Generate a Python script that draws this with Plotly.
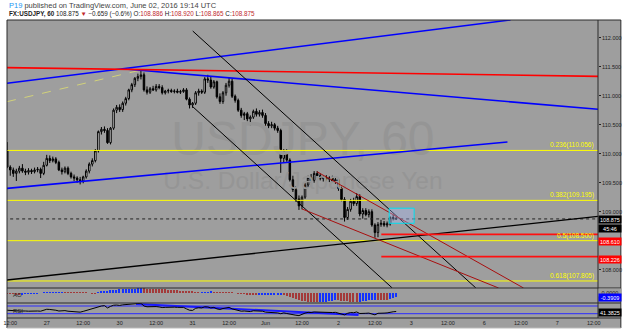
import plotly.graph_objects as go

# ---------------- data ----------------
# hourly bar index: 0 = 27 May 00:00 UTC (weekend gap removed, 24 bars per day)
bar_index = list(range(-13, 116))

opens = [110.06, 109.77, 109.72, 109.66, 109.70, 109.75, 109.70, 109.68, 109.71, 109.69, 109.72, 109.73, 109.66,
         109.80, 109.92, 109.88, 109.91, 109.85, 109.72, 109.69, 109.75, 109.66, 109.60, 109.58, 109.55,
         109.53, 109.60, 109.70, 109.82, 109.88, 110.05, 110.38, 110.42, 110.40, 110.19, 110.44, 110.75,
         110.80, 110.76, 110.87, 110.95, 111.10, 111.19, 111.30, 111.33, 111.36, 111.10, 111.06, 111.12,
         111.10, 111.16, 111.14, 111.05, 111.08, 111.09, 111.07, 111.08, 111.06, 111.07, 111.10, 110.94,
         110.84, 110.87, 111.05, 111.08, 111.06, 111.29, 111.27, 111.15, 111.24, 110.98, 110.90, 111.05,
         111.18, 111.25, 110.99, 110.92, 110.75, 110.66, 110.69, 110.60, 110.63, 110.73, 110.68, 110.71,
         110.66, 110.52, 110.48, 110.50, 110.44, 110.40, 109.92, 110.05, 109.89, 109.55, 109.38, 109.22,
         109.10, 109.25, 109.46, 109.59, 109.54, 109.66, 109.62, 109.57, 109.59, 109.56, 109.58, 109.53,
         109.55, 109.40, 109.21, 108.90, 109.04, 109.18, 109.14, 109.26, 108.96, 109.02, 108.95, 109.00,
         108.77, 108.64, 108.78, 108.80, 108.77, 108.79, 108.90, 108.886]
highs = [110.20, 109.80, 109.76, 109.74, 109.79, 109.82, 109.74, 109.75, 109.74, 109.76, 109.77, 109.76, 109.86,
         109.98, 109.97, 109.95, 109.94, 109.88, 109.76, 109.78, 109.78, 109.69, 109.64, 109.61, 109.60,
         109.62, 109.73, 109.85, 109.92, 110.08, 110.40, 110.46, 110.47, 110.44, 110.46, 110.78, 110.84,
         110.85, 110.90, 110.98, 111.12, 111.22, 111.32, 111.38, 111.45, 111.40, 111.16, 111.15, 111.17,
         111.20, 111.20, 111.18, 111.10, 111.12, 111.12, 111.11, 111.12, 111.10, 111.13, 111.13, 110.97,
         110.89, 111.08, 111.12, 111.11, 111.32, 111.36, 111.33, 111.27, 111.26, 111.04, 111.08, 111.22,
         111.31, 111.29, 111.02, 110.95, 110.79, 110.72, 110.72, 110.66, 110.76, 110.78, 110.75, 110.76,
         110.70, 110.56, 110.55, 110.53, 110.48, 110.43, 110.08, 110.08, 109.92, 109.62, 109.44, 109.28,
         109.28, 109.50, 109.62, 109.65, 109.70, 109.70, 109.66, 109.62, 109.63, 109.61, 109.62, 109.58,
         109.58, 109.43, 109.25, 109.08, 109.22, 109.24, 109.32, 109.30, 109.06, 109.06, 109.04, 109.04,
         108.80, 108.82, 108.86, 108.84, 108.83, 108.92, 108.95, 108.920]
lows = [109.75, 109.62, 109.60, 109.53, 109.66, 109.67, 109.63, 109.64, 109.65, 109.66, 109.68, 109.58, 109.63,
        109.78, 109.84, 109.85, 109.82, 109.70, 109.64, 109.66, 109.63, 109.57, 109.53, 109.50, 109.47,
        109.49, 109.57, 109.66, 109.78, 109.85, 110.02, 110.33, 110.36, 110.17, 110.16, 110.41, 110.70,
        110.72, 110.72, 110.83, 110.92, 111.06, 111.15, 111.25, 111.28, 111.07, 111.02, 111.03, 111.08,
        111.07, 111.11, 111.02, 111.02, 111.04, 111.05, 111.04, 111.04, 111.03, 111.05, 110.92, 110.78,
        110.79, 110.84, 111.00, 111.03, 111.03, 111.22, 111.12, 111.12, 110.95, 110.86, 110.86, 111.00,
        111.14, 110.96, 110.88, 110.72, 110.62, 110.58, 110.56, 110.49, 110.60, 110.64, 110.64, 110.62,
        110.48, 110.44, 110.44, 110.40, 110.36, 109.67, 109.85, 109.86, 109.52, 109.34, 109.17, 109.03,
        109.04, 109.22, 109.42, 109.50, 109.50, 109.58, 109.54, 109.52, 109.53, 109.51, 109.50, 109.48,
        109.36, 109.18, 108.83, 108.86, 109.00, 109.10, 109.10, 108.92, 108.88, 108.92, 108.90, 108.74,
        108.55, 108.56, 108.74, 108.74, 108.73, 108.76, 108.85, 108.865]
closes = [109.77, 109.72, 109.66, 109.70, 109.75, 109.70, 109.68, 109.71, 109.69, 109.72, 109.73, 109.66, 109.80,
          109.92, 109.88, 109.91, 109.85, 109.72, 109.69, 109.75, 109.66, 109.60, 109.58, 109.55, 109.53,
          109.60, 109.70, 109.82, 109.88, 110.05, 110.38, 110.42, 110.40, 110.19, 110.44, 110.75, 110.80,
          110.76, 110.87, 110.95, 111.10, 111.19, 111.30, 111.33, 111.36, 111.10, 111.06, 111.12, 111.10,
          111.16, 111.14, 111.05, 111.08, 111.09, 111.07, 111.08, 111.06, 111.07, 111.10, 110.94, 110.84,
          110.87, 111.05, 111.08, 111.06, 111.29, 111.27, 111.15, 111.24, 110.98, 110.90, 111.05, 111.18,
          111.25, 110.99, 110.92, 110.75, 110.66, 110.69, 110.60, 110.63, 110.73, 110.68, 110.71, 110.66,
          110.52, 110.48, 110.50, 110.44, 110.40, 109.92, 110.05, 109.89, 109.55, 109.38, 109.22, 109.10,
          109.25, 109.46, 109.59, 109.54, 109.66, 109.62, 109.57, 109.59, 109.56, 109.58, 109.53, 109.55,
          109.40, 109.21, 108.90, 109.04, 109.18, 109.14, 109.26, 108.96, 109.02, 108.95, 109.00, 108.77,
          108.64, 108.78, 108.80, 108.77, 108.79, 108.90, 108.886, 108.875]

ao_values = [-0.06, -0.08, -0.10, -0.12, -0.14,
             -0.12, -0.10, -0.08, -0.06, -0.04, -0.02,
             0.0, 0.01, 0.02, 0.025, 0.03, 0.035, 0.04, 0.045,
             0.04, 0.035, 0.03, 0.025, 0.02, 0.015, 0.01, 0.005, 0.0, -0.005, -0.01,
             0.05, 0.12, 0.18, 0.24, 0.28, 0.32, 0.35, 0.38, 0.40, 0.42, 0.43, 0.44, 0.45, 0.46, 0.47,
             0.46, 0.45, 0.44, 0.43, 0.42, 0.40, 0.38, 0.36, 0.34, 0.32, 0.29, 0.26, 0.23, 0.20, 0.17,
             0.14, 0.11, 0.09, 0.07,
             0.08, 0.09, 0.10, 0.11,
             0.10, 0.08, 0.06, 0.05, 0.04, 0.03, 0.02, 0.0, -0.03, -0.06, -0.10, -0.13, -0.16, -0.18, -0.20,
             -0.19, -0.185, -0.18, -0.175, -0.17, -0.165, -0.16, -0.155,
             -0.20, -0.28, -0.38, -0.48, -0.58, -0.68, -0.76, -0.82, -0.87, -0.90, -0.92, -0.93,
             -0.92, -0.89, -0.85, -0.80, -0.75, -0.70,
             -0.72, -0.75, -0.80, -0.84, -0.87, -0.89, -0.90,
             -0.88, -0.84, -0.79, -0.74, -0.70, -0.66,
             -0.68, -0.70, -0.71, -0.72,
             -0.60, -0.50, -0.3909]

rsi_values = [48, 46, 44, 45,
              44, 45, 44, 43, 44, 45, 44, 43,
              48, 53, 52, 51,
              48, 44, 45, 46, 43, 41, 40, 39,
              38, 42, 47,
              52, 57, 63, 68, 70,
              72, 60, 68,
              74, 75, 73, 76, 78, 80, 81, 82, 83,
              84,
              70, 66, 67,
              66, 67, 65, 62, 63, 64, 63, 64, 63, 62, 63, 55,
              48, 47,
              58, 61, 60, 66,
              65, 60, 63, 55, 52, 57, 61, 63,
              55, 52, 46,
              43, 44, 42, 41, 45, 44, 45, 43,
              38, 37, 38, 36, 34,
              30, 34, 31, 27, 24, 22, 20,
              28, 33, 37, 36, 39, 38, 37,
              37, 36, 37, 36, 37, 33,
              30, 24, 32, 36, 35, 39, 31,
              33, 32, 33, 28, 24, 32, 34, 33, 34,
              39, 40, 41.3825]

tick_bars = [-12, 0, 12, 24, 36, 48, 60, 72, 84, 96, 108, 120, 132, 144, 156, 168, 180]
tick_labels = ["12:00", "27", "12:00", "30", "12:00", "31", "12:00", "Jun", "12:00",
               "2", "12:00", "3", "12:00", "6", "12:00", "7", "12:00"]

# 108.500 is hidden behind the 108.610 label in the reference
price_ticks = [108.0, 109.0, 109.5, 110.0, 110.5, 111.0, 111.5, 112.0]
price_tick_labels = ["108.000", "109.000", "109.500", "110.000",
                     "110.500", "111.000", "111.500", "112.000"]

fib_levels = [110.056, 109.195, 108.500, 107.805]
fib_labels = ["0.236(110.056)", "0.382(109.195)", "0.5(108.500)", "0.618(107.805)"]

# drawn trend lines (bar index, price)
blue_up_x, blue_up_y = [-13.07, 152.6], [111.214, 112.305]
red_top_x, red_top_y = [-14, 182], [111.484, 111.333]
blue_down_x, blue_down_y = [26.8, 181.4], [111.455, 110.766]
blue_low_x, blue_low_y = [-13.07, 151.6], [109.402, 110.202]
fib_trend_x, fib_trend_y = [-13.07, 31.05], [110.897, 111.443]
chan_up_x, chan_up_y = [48.04, 141.2], [112.115, 107.685]
chan_low_x, chan_low_y = [48.04, 113.7], [110.81, 107.684]
rise_blk_x, rise_blk_y = [-14, 182], [107.817, 108.922]
dred1_x, dred1_y = [88.9, 156.9], [109.690, 107.684]
dred2_x, dred2_y = [84.0, 148.7], [109.047, 107.684]
ray_levels = [108.610, 108.226]
ray_start = 110.1
last_price = 108.875
box_x, box_y = [112.7, 120.9], [108.80, 109.06]
rsi_levels = [70, 30]
rsi_trend_x, rsi_trend_y = [29.4, 102.6], [80.4, 23.0]

# ---------------- layout helpers ----------------
W, H = 625, 330
ML, MR, MT, MB = 3, 27, 20, 12
PW, PH = W - ML - MR, H - MT - MB
X_RANGE = [-13.07, 181.4]
Y_RANGE = [107.684, 112.305]
BG = "#9e9e9e"
FONT = "Liberation Sans, Arial, sans-serif"


def xp(px):
    return (px - ML) / PW


def yp(py):
    return (H - MB - py) / PH


fig = go.Figure()

# watermark (under everything)
fig.add_trace(go.Scatter(x=[84.3], y=[110.19], mode="text", text=["USDJPY, 60"],
                         textfont=dict(size=48, color="#959595", family=FONT),
                         xaxis="x", yaxis="y", hoverinfo="skip", showlegend=False))
fig.add_trace(go.Scatter(x=[84.3], y=[109.49], mode="text", text=["U.S. Dollar/Japanese Yen"],
                         textfont=dict(size=24.5, color="#959595", family=FONT),
                         xaxis="x", yaxis="y", hoverinfo="skip", showlegend=False))


def line(xs, ys, color, width=1, dash="solid", xa="x", ya="y"):
    fig.add_trace(go.Scatter(x=xs, y=ys, mode="lines", line=dict(color=color, width=width, dash=dash),
                             xaxis=xa, yaxis=ya, hoverinfo="skip", showlegend=False))


# fib levels
for lv in fib_levels:
    line([-14, 182], [lv, lv], "#ffff00", 1)

# candles
fig.add_trace(go.Candlestick(x=bar_index, open=opens, high=highs, low=lows, close=closes,
                             increasing=dict(line=dict(color="#000000", width=1), fillcolor="#ffffff"),
                             decreasing=dict(line=dict(color="#000000", width=1), fillcolor="#000000"),
                             whiskerwidth=0, xaxis="x", yaxis="y", hoverinfo="skip", showlegend=False))

# last price dotted line
line([-14, 182], [last_price, last_price], "#222222", 1, "dot")

# trend lines
line(fib_trend_x, fib_trend_y, "#d2d27a", 1, "dash")
line(blue_up_x, blue_up_y, "#0000ff", 1.6)
line(blue_low_x, blue_low_y, "#0000ff", 1.6)
line(blue_down_x, blue_down_y, "#0000ff", 1.6)
line(red_top_x, red_top_y, "#ff0000", 1.6)
line(chan_up_x, chan_up_y, "#000000", 1)
line(chan_low_x, chan_low_y, "#000000", 1)
line(rise_blk_x, rise_blk_y, "#000000", 1.4)
line(dred1_x, dred1_y, "#a80f0f", 1)
line(dred2_x, dred2_y, "#a80f0f", 1)
for lv in ray_levels:
    line([ray_start, 182], [lv, lv], "#ff1010", 1.8)

# rectangle
fig.add_trace(go.Scatter(x=[box_x[0], box_x[1], box_x[1], box_x[0], box_x[0]],
                         y=[box_y[0], box_y[0], box_y[1], box_y[1], box_y[0]],
                         mode="lines", fill="toself", fillcolor="rgba(170,190,255,0.35)",
                         line=dict(color="#00e0f0", width=1), xaxis="x", yaxis="y",
                         hoverinfo="skip", showlegend=False))

# AO histogram
ao_colors = []
for i, v in enumerate(ao_values):
    up = i > 0 and v > ao_values[i - 1]
    ao_colors.append("#1432ff" if up else "#a33a3a")
fig.add_trace(go.Bar(x=bar_index, y=ao_values, marker=dict(color=ao_colors, line=dict(width=0)),
                     width=0.45, xaxis="x2", yaxis="y2", hoverinfo="skip", showlegend=False))

# RSI
for lv in rsi_levels:
    line([-14, 182], [lv, lv], "#2b2bff", 1, xa="x3", ya="y3")
line(rsi_trend_x, rsi_trend_y, "#1a1aff", 2, xa="x3", ya="y3")
line(bar_index, rsi_values, "#000000", 1, xa="x3", ya="y3")

# ---------------- axes ----------------
main_dom = [yp(288), 1]
ao_dom = [yp(303), yp(288)]
rsi_dom = [0, yp(303)]

xcommon = dict(range=X_RANGE, showgrid=False, zeroline=False, fixedrange=True)
fig.update_layout(
    xaxis=dict(**xcommon, domain=[0, 1], anchor="y", showticklabels=False, ticks="",
               rangeslider=dict(visible=False)),
    xaxis2=dict(**xcommon, domain=[0, 1], anchor="y2", matches="x", showticklabels=False, ticks=""),
    xaxis3=dict(**xcommon, domain=[0, 1], anchor="y3", matches="x", tickmode="array",
                tickvals=tick_bars, ticktext=tick_labels, ticks="", ticklabeloverflow="allow",
                tickfont=dict(size=5.5, color="#222222", family=FONT)),
    yaxis=dict(domain=main_dom, range=Y_RANGE, side="right", anchor="x", showgrid=False, zeroline=False,
               tickmode="array", tickvals=price_ticks, ticktext=price_tick_labels, ticks="outside",
               ticklen=2, tickcolor="#222222", tickfont=dict(size=5.5, color="#222222", family=FONT)),
    yaxis2=dict(domain=ao_dom, range=[-1.0, 0.5], anchor="x2", side="right", showgrid=False,
                zeroline=False, showticklabels=False, ticks=""),
    yaxis3=dict(domain=rsi_dom, range=[7.6, 85.6], anchor="x3", side="right", showgrid=False,
                zeroline=False, showticklabels=False, ticks=""),
    width=W, height=H, margin=dict(l=ML, r=MR, t=MT, b=MB),
    paper_bgcolor="#ffffff", plot_bgcolor=BG, bargap=0, showlegend=False,
    font=dict(family=FONT),
)

# ---------------- frame shapes ----------------
shapes = [
    dict(type="rect", xref="paper", yref="paper", x0=0, x1=xp(621), y0=yp(328), y1=1,
         fillcolor=BG, line=dict(width=0), layer="below"),
]
frame_col = "#2a2a2a"
for py in [288, 303, 318]:
    shapes.append(dict(type="line", xref="paper", yref="paper", x0=0, x1=xp(621), y0=yp(py), y1=yp(py),
                       line=dict(color=frame_col, width=1)))
shapes.append(dict(type="line", xref="paper", yref="paper", x0=0, x1=xp(621), y0=1, y1=1,
                   line=dict(color=frame_col, width=1)))
shapes.append(dict(type="line", xref="paper", yref="paper", x0=0, x1=0, y0=yp(328), y1=1,
                   line=dict(color=frame_col, width=1)))
shapes.append(dict(type="line", xref="paper", yref="paper", x0=1, x1=1, y0=0, y1=1,
                   line=dict(color=frame_col, width=1)))
shapes.append(dict(type="line", xref="paper", yref="paper", x0=xp(621), x1=xp(621), y0=yp(328), y1=1,
                   line=dict(color=frame_col, width=1)))
shapes.append(dict(type="line", xref="paper", yref="paper", x0=0, x1=xp(621), y0=yp(328), y1=yp(328),
                   line=dict(color="#bbbbbb", width=1)))
fig.update_layout(shapes=shapes)

# ---------------- annotations ----------------
ann = []
ann.append(dict(xref="paper", yref="paper", x=xp(3), y=yp(6), xanchor="left", yanchor="middle",
                showarrow=False, font=dict(size=7.5, color="#444444", family=FONT),
                text="<span style='color:#2196f3'>P19</span> published on TradingView.com, June 02, 2016 19:14 UTC"))
red = "#c0282d"
ann.append(dict(xref="paper", yref="paper", x=xp(3), y=yp(14.5), xanchor="left", yanchor="middle",
                showarrow=False, font=dict(size=6.3, color="#222222", family=FONT),
                text=("<b>FX:USDJPY, 60</b> 108.875 <span style='color:%s'>▼</span> −0.659 (−0.6%%) "
                      "O:<span style='color:%s'>108.886</span> H:<span style='color:%s'>108.920</span> "
                      "L:<span style='color:%s'>108.865</span> C:<span style='color:%s'>108.875</span>")
                % (red, red, red, red, red)))
for lv, lab in zip(fib_levels, fib_labels):
    ann.append(dict(xref="paper", yref="y", x=xp(595), y=lv, xanchor="right", yanchor="bottom",
                    showarrow=False, text=lab, font=dict(size=6.5, color="#ffff00", family=FONT),
                    borderpad=0))


def axis_box(text, py, bg, fg="#ffffff"):
    ann.append(dict(xref="paper", yref="paper", x=xp(598.5), y=yp(py), xanchor="left", yanchor="middle",
                    showarrow=False, text=text, font=dict(size=5.5, color=fg, family=FONT),
                    bgcolor=bg, width=22, height=7, borderpad=0, align="center"))


axis_box("108.875", 219.3, "#000000")
axis_box("45:46", 228, "#000000")
axis_box("108.610", 241.7, "#ff0000")
axis_box("108.226", 259, "#ff0000")
axis_box("0.0000", 292, BG, "#222222")
axis_box("-0.3909", 297.3, "#0000ff")
axis_box("41.3825", 312, "#000000")

ann.append(dict(xref="paper", yref="paper", x=xp(7), y=yp(295), xanchor="left", yanchor="middle",
                showarrow=False, text="AO", font=dict(size=6, color="#222222", family=FONT)))
ann.append(dict(xref="paper", yref="paper", x=xp(7), y=yp(311), xanchor="left", yanchor="middle",
                showarrow=False, text="RSI", font=dict(size=6, color="#222222", family=FONT)))
fig.update_layout(annotations=ann)

fig.write_html("out.html")
